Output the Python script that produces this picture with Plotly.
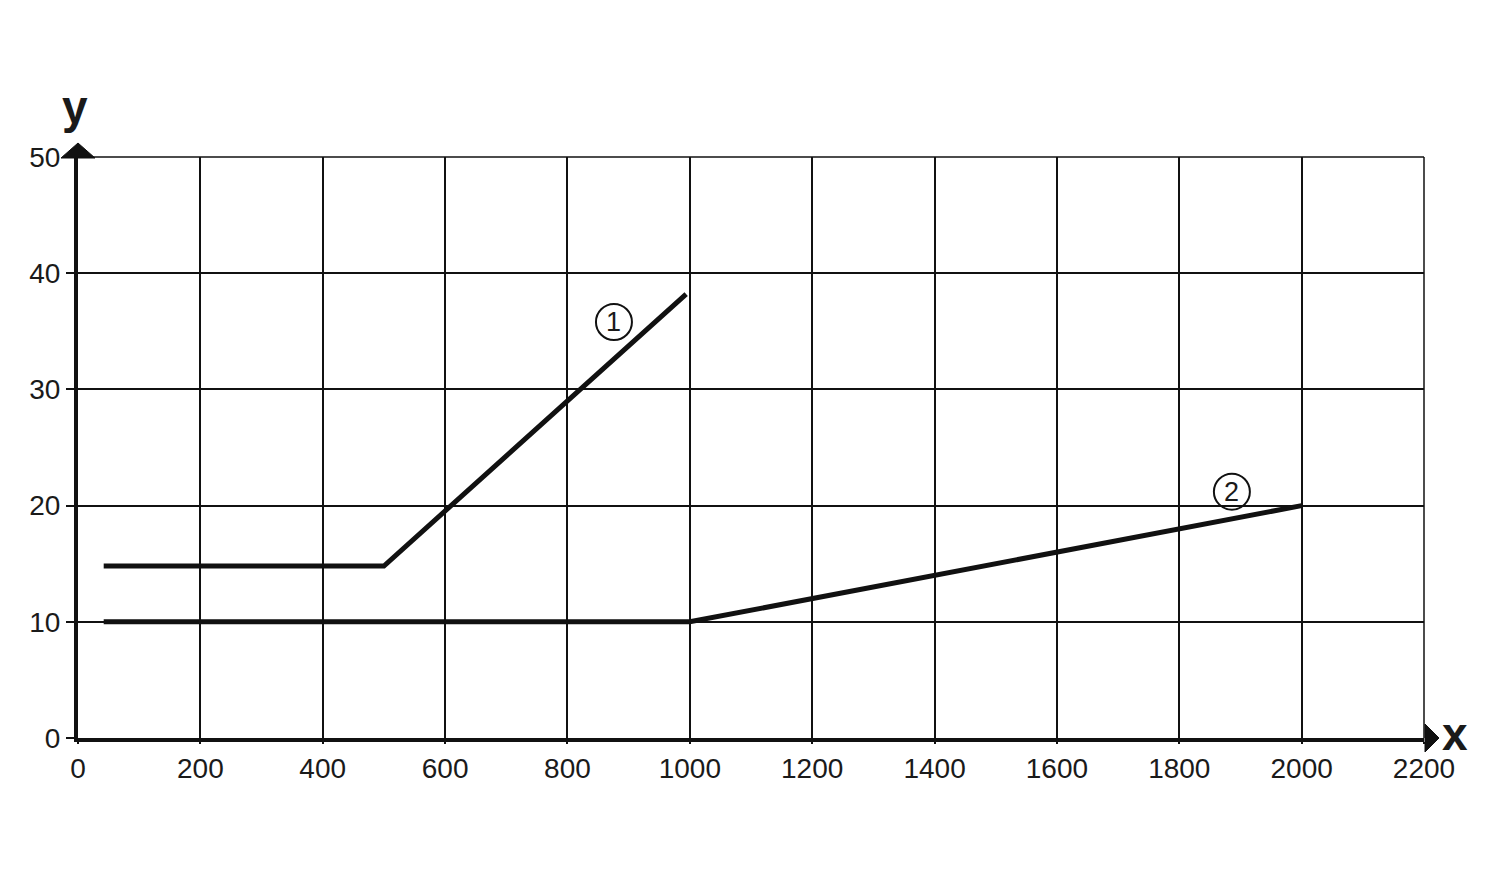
import plotly.graph_objects as go

# Data
line1_x = [42, 500, 994]
line1_y = [14.8, 14.8, 38.2]
line2_x = [42, 1000, 2000]
line2_y = [10, 10, 20]
label_names = ["1", "2"]
label_x = [876, 1886]
label_y = [35.8, 21.2]
x_ticks = [0, 200, 400, 600, 800, 1000, 1200, 1400, 1600, 1800, 2000, 2200]
y_ticks = [0, 10, 20, 30, 40, 50]

fig = go.Figure()
fig.add_trace(go.Scatter(x=line1_x, y=line1_y, mode="lines",
                         line=dict(color="#111111", width=5), showlegend=False))
fig.add_trace(go.Scatter(x=line2_x, y=line2_y, mode="lines",
                         line=dict(color="#111111", width=5), showlegend=False))

font = dict(family="Liberation Sans, Arial, sans-serif", color="#1a1a1a")

for n, lx, ly in zip(label_names, label_x, label_y):
    fig.add_annotation(x=lx, y=ly, text=n, showarrow=False,
                       font=dict(size=27, **font))
    fig.add_shape(type="circle", xref="x", yref="y",
                  xsizemode="pixel", ysizemode="pixel",
                  xanchor=lx, yanchor=ly, x0=-18, x1=18, y0=-18, y1=18,
                  line=dict(color="#111111", width=2))

# axis arrows (paper refs so they are not clipped)
fig.add_shape(type="path", xref="paper", yref="paper", xsizemode="pixel", ysizemode="pixel",
              xanchor=0, yanchor=1, path="M -17,-1 L 17,-1 L 0,14 Z",
              fillcolor="#111111", line=dict(color="#111111", width=1))
fig.add_shape(type="path", xref="paper", yref="paper", xsizemode="pixel", ysizemode="pixel",
              xanchor=1, yanchor=0, path="M 1,-14 L 1,14 L 15,0 Z",
              fillcolor="#111111", line=dict(color="#111111", width=1))

# axis titles
fig.add_annotation(xref="paper", yref="paper", x=0, y=1, xanchor="center", yanchor="top",
                   xshift=-3, yshift=78,
                   text="<b>y</b>", showarrow=False, font=dict(size=46, **font))
fig.add_annotation(xref="paper", yref="paper", x=1, y=0, xanchor="center", yanchor="bottom",
                   xshift=31, yshift=-24,
                   text="<b>x</b>", showarrow=False, font=dict(size=46, **font))

fig.update_xaxes(range=[0, 2200], tickvals=x_ticks, ticktext=[str(v) for v in x_ticks],
                 showgrid=True, gridcolor="#111111", gridwidth=1.5,
                 showline=True, linecolor="#111111", linewidth=4,
                 ticks="outside", ticklen=2, tickwidth=1.5, tickcolor="#111111",
                 tickfont=dict(size=28, **font), zeroline=False, mirror=False)
fig.update_yaxes(range=[0, 50], tickvals=y_ticks, ticktext=[str(v) for v in y_ticks],
                 showgrid=True, gridcolor="#111111", gridwidth=1.5,
                 showline=True, linecolor="#111111", linewidth=4,
                 ticks="outside", ticklen=8, tickwidth=1.5, tickcolor="#111111",
                 tickfont=dict(size=28, **font), zeroline=False)

# top and right borders (thin)
fig.add_shape(type="line", xref="paper", yref="paper", x0=0, x1=1, y0=1, y1=1,
              line=dict(color="#111111", width=1.5))
fig.add_shape(type="line", xref="paper", yref="paper", x0=1, x1=1, y0=0, y1=1,
              line=dict(color="#111111", width=1.5))

fig.update_layout(width=1500, height=879, plot_bgcolor="white", paper_bgcolor="white",
                  margin=dict(l=70, r=84, t=149, b=149), showlegend=False)

fig.write_html("out.html")
